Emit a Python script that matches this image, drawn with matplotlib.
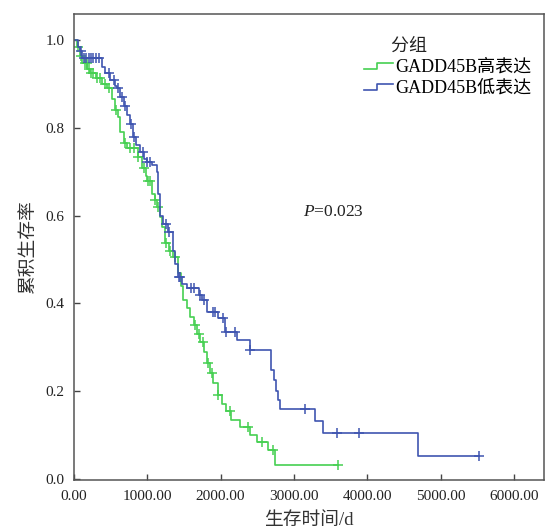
import numpy as np
import matplotlib
matplotlib.use('Agg')
import matplotlib.pyplot as plt
from matplotlib.lines import Line2D
from matplotlib.legend_handler import HandlerBase

plt.rcParams['font.family'] = ['Liberation Serif', 'Noto Sans CJK SC']
plt.rcParams['mathtext.fontset'] = 'custom'
plt.rcParams['mathtext.it'] = 'Liberation Serif:italic'
plt.rcParams['mathtext.rm'] = 'Liberation Serif'

# Kaplan-Meier step data (time in days, survival after the step)
high_t = [0, 40, 80, 110, 180, 220, 300, 380, 450, 520, 560, 600, 630, 680, 720,
          870, 930, 980, 1000, 1060, 1100, 1130, 1170, 1200, 1240, 1300, 1350, 1420,
          1460, 1490, 1540, 1580, 1640, 1680, 1720, 1780, 1810, 1860, 1900, 1960,
          2020, 2080, 2140, 2265, 2400, 2500, 2640, 2740]
high_s = [1.0, 0.985, 0.965, 0.948, 0.935, 0.925, 0.915, 0.90, 0.89, 0.865, 0.84,
          0.825, 0.79, 0.765, 0.754, 0.733, 0.708, 0.69, 0.68, 0.65, 0.635, 0.62,
          0.597, 0.575, 0.537, 0.52, 0.506, 0.47, 0.44, 0.408, 0.39, 0.369, 0.35,
          0.33, 0.312, 0.29, 0.264, 0.24, 0.219, 0.19, 0.17, 0.155, 0.134, 0.118,
          0.10, 0.084, 0.066, 0.032]
high_end = 3600
high_cens = [60, 100, 150, 175, 200, 235, 260, 320, 350, 420, 480, 570, 700, 760,
             820, 880, 950, 1010, 1040, 1110, 1150, 1260, 1310, 1380, 1650, 1700,
             1760, 1830, 1880, 1960, 2130, 2380, 2560, 2710, 3600]

low_t = [0, 50, 80, 110, 380, 420, 490, 560, 590, 630, 680, 720, 760, 800, 850,
         900, 960, 1000, 1060, 1130, 1150, 1170, 1210, 1280, 1350, 1380, 1420, 1480,
         1540, 1700, 1750, 1810, 1960, 2060, 2220, 2400, 2690, 2730, 2760, 2780,
         2810, 3290, 3400, 4690]
low_s = [1.0, 0.985, 0.975, 0.959, 0.94, 0.925, 0.909, 0.895, 0.89, 0.87, 0.85,
         0.829, 0.81, 0.779, 0.76, 0.745, 0.73, 0.722, 0.715, 0.70, 0.65, 0.60,
         0.58, 0.563, 0.52, 0.49, 0.46, 0.445, 0.435, 0.42, 0.408, 0.38, 0.367,
         0.335, 0.317, 0.294, 0.248, 0.226, 0.20, 0.18, 0.159, 0.132, 0.105, 0.052]
low_end = 5530
low_cens = [100, 140, 170, 200, 230, 260, 300, 340, 480, 540, 600, 650, 700, 780,
            820, 940, 1000, 1040, 1250, 1300, 1430, 1450, 1590, 1640, 1720, 1770,
            1900, 1930, 2030, 2070, 2200, 2400, 3150, 3590, 3890, 5530]

labels = ['GADD45B高表达', 'GADD45B低表达']
colors = ['#46d052', '#3f55b0']
xticks = [0, 1000, 2000, 3000, 4000, 5000, 6000]
yticks = [0.0, 0.2, 0.4, 0.6, 0.8, 1.0]


class StepHandler(HandlerBase):
    def create_artists(self, legend, orig_handle, xdescent, ydescent,
                       width, height, fontsize, trans):
        x0 = -xdescent
        y0 = -ydescent
        xs = [x0, x0 + width * 0.45, x0 + width * 0.45, x0 + width]
        ys = [y0 + height * 0.2, y0 + height * 0.2, y0 + height * 0.7, y0 + height * 0.7]
        ln = Line2D(xs, ys, color=orig_handle.get_color(), lw=1.2)
        ln.set_transform(trans)
        return [ln]


fig = plt.figure(figsize=(5.52, 5.29), dpi=100)
ax = fig.add_axes([0.134, 0.0926, 0.8515, 0.881])

handles = []
for t, s, end, cens, col, lab in [(high_t, high_s, high_end, high_cens, colors[0], labels[0]),
                                  (low_t, low_s, low_end, low_cens, colors[1], labels[1])]:
    tt = np.array(list(t) + [end])
    ss = np.array(list(s) + [s[-1]])
    h, = ax.step(tt, ss, where='post', color=col, lw=1.2, label=lab)
    handles.append(h)
    cens = np.array(cens)
    idx = np.searchsorted(np.array(t), cens, side='right') - 1
    ax.plot(cens, np.array(s)[idx], linestyle='none', marker='+', color=col,
            markersize=7.5, mew=1.1)

ax.set_xlim(0, 6410)
ax.set_ylim(-0.003, 1.06)
ax.set_xticks(xticks)
ax.set_xticklabels([f'{v:.2f}' for v in xticks])
ax.set_yticks(yticks)
ax.set_yticklabels([f'{v:.1f}' for v in yticks])
ax.tick_params(direction='in', length=4, width=1, colors='#444444',
               labelsize=11, labelcolor='#222222', pad=7)
for sp in ax.spines.values():
    sp.set_color('#555555')
    sp.set_linewidth(1.1)

ax.set_xlabel('生存时间/d', fontsize=13.5, color='#333333', labelpad=7)
ax.set_ylabel('累积生存率', fontsize=13.5, color='#333333', labelpad=6)

ax.text(3120, 0.60, r'$P$=0.023', fontsize=12.5, color='#222222')

leg = ax.legend(handles=handles, labels=labels, title='      分组', loc='upper right',
                bbox_to_anchor=(1.0, 0.975), frameon=False, fontsize=13,
                title_fontsize=13, handler_map={Line2D: StepHandler()},
                handlelength=1.6, handletextpad=0.15, labelspacing=0.2,
                borderaxespad=0.3)
leg._legend_box.align = 'left'
leg.get_title().set_color('#222222')

fig.savefig('out.png', dpi=100)
